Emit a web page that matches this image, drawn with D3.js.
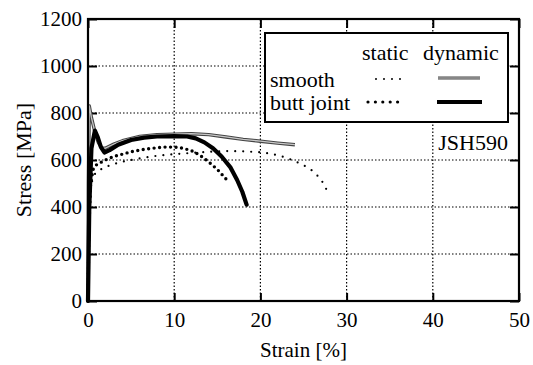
<!DOCTYPE html>
<html><head><meta charset="utf-8">
<script src="https://cdn.jsdelivr.net/npm/d3@7"></script>
<style>html,body{margin:0;padding:0;background:#fff;}svg{display:block;} svg text{font-family:"Liberation Serif","Times New Roman",Tinos,"DejaVu Serif",serif !important;}</style>
</head><body>
<script>
const xTicks = [0, 10, 20, 30, 40, 50];
const yTicks = [0, 200, 400, 600, 800, 1000, 1200];

const dynSmoothX = [0, 0.05, 0.15, 0.4, 0.8, 1.2, 1.6, 2, 3, 4, 6, 8, 10, 12, 14, 16, 18, 20, 22, 24];
const dynSmoothY = [0, 500, 830, 780, 720, 675, 650, 650, 668, 682, 700, 708, 710, 712, 708, 698, 688, 680, 672, 665];

const dynButtX = [0, 0.15, 0.4, 0.8, 1.1, 1.5, 1.9, 2.5, 3.5, 5, 6.5, 8, 10, 11.5, 12.5, 13.5, 14.5, 15.5, 16.5, 17.3, 17.9, 18.4];
const dynButtY = [0, 400, 650, 725, 700, 655, 632, 642, 665, 685, 695, 700, 702, 700, 692, 675, 650, 615, 570, 515, 465, 410];

const statButtX = [0, 0.1, 0.3, 0.6, 1, 2, 3, 4, 5, 6, 7, 8, 9, 10, 11, 12, 13, 14, 15, 16, 16.3];
const statButtY = [0, 300, 500, 560, 580, 600, 615, 625, 635, 642, 648, 652, 655, 655, 650, 640, 620, 592, 560, 520, 505];

const statSmoothX = [0, 0.1, 0.3, 0.6, 1, 2, 3, 4, 6, 8, 10, 12, 14, 16, 18, 20, 21, 22, 23, 24, 25, 26, 27, 27.8];
const statSmoothY = [0, 300, 480, 530, 550, 570, 583, 593, 607, 618, 625, 630, 635, 638, 637, 633, 628, 620, 610, 595, 578, 555, 520, 465];

const W = 533, H = 365;
const FONT = "'Liberation Serif', 'Times New Roman', Tinos, 'DejaVu Serif', serif";
const svg = d3.select("body").append("svg").attr("width", W).attr("height", H);
svg.append("rect").attr("width", W).attr("height", H).attr("fill", "#fff");

const x = d3.scaleLinear().domain([0, 50]).range([88, 519]);
const y = d3.scaleLinear().domain([0, 1200]).range([301, 19]);

// grid
const g = svg.append("g");
g.selectAll(".gx").data(xTicks.slice(1, -1)).join("line")
  .attr("x1", d => x(d)).attr("x2", d => x(d)).attr("y1", y(0)).attr("y2", y(1200))
  .attr("stroke", "#000").attr("stroke-width", 1.2).attr("stroke-dasharray", "1.5,2");
g.selectAll(".gy").data(yTicks.slice(1, -1)).join("line")
  .attr("x1", x(0)).attr("x2", x(50)).attr("y1", d => y(d)).attr("y2", d => y(d))
  .attr("stroke", "#000").attr("stroke-width", 1.2).attr("stroke-dasharray", "1.5,2");

// axes
const fs = 21;
const ax = svg.append("g").attr("transform", `translate(0,${y(0)})`)
  .call(d3.axisBottom(x).tickValues(xTicks).tickSize(-8).tickPadding(11).tickFormat(d3.format("d")));
const ay = svg.append("g").attr("transform", `translate(${x(0)},0)`)
  .call(d3.axisLeft(y).tickValues(yTicks).tickSize(-9).tickPadding(6).tickFormat(d3.format("d")));
const at = svg.append("g").attr("transform", `translate(0,${y(1200)})`)
  .call(d3.axisTop(x).tickValues(xTicks).tickSize(-9).tickFormat(""));
const ar = svg.append("g").attr("transform", `translate(${x(50)},0)`)
  .call(d3.axisRight(y).tickValues(yTicks).tickSize(-9).tickFormat(""));
[ax, ay, at, ar].forEach(a => {
  a.attr("font-family", FONT);
  a.select(".domain").remove();
  a.selectAll(".tick line").attr("stroke", "#000").attr("stroke-width", 2);
  a.selectAll("text").attr("font-size", fs).attr("fill", "#000");
});

// curves
const zip = (a, b) => a.map((v, i) => [v, b[i]]);
const lineY = d3.line().x(d => x(d[0])).y(d => y(d[1]));

svg.append("path").attr("d", lineY(zip(statSmoothX, statSmoothY))).attr("fill", "none")
  .attr("stroke", "#000").attr("stroke-width", 2.2).attr("stroke-linecap", "round").attr("stroke-dasharray", "0,8");
svg.append("path").attr("d", lineY(zip(statButtX, statButtY))).attr("fill", "none")
  .attr("stroke", "#000").attr("stroke-width", 3.4).attr("stroke-linecap", "round").attr("stroke-dasharray", "0,5.5");
svg.append("path").attr("d", lineY(zip(dynSmoothX, dynSmoothY))).attr("fill", "none")
  .attr("stroke", "#444").attr("stroke-width", 3.4).attr("stroke-linejoin", "round");
svg.append("path").attr("d", lineY(zip(dynSmoothX, dynSmoothY))).attr("fill", "none")
  .attr("stroke", "#c8c8c8").attr("stroke-width", 1.3).attr("stroke-linejoin", "round");
svg.append("path").attr("d", lineY(zip(dynButtX, dynButtY))).attr("fill", "none")
  .attr("stroke", "#000").attr("stroke-width", 4.2).attr("stroke-linejoin", "round").attr("stroke-linecap", "round");

// frame
svg.append("rect").attr("x", x(0)).attr("y", y(1200)).attr("width", x(50) - x(0)).attr("height", y(0) - y(1200))
  .attr("fill", "none").attr("stroke", "#000").attr("stroke-width", 2.2);

// legend
const lg = svg.append("g").attr("font-family", FONT);
lg.append("rect").attr("x", 265).attr("y", 33).attr("width", 243).attr("height", 89)
  .attr("fill", "#fff").attr("stroke", "#000").attr("stroke-width", 2);
const lfs = 22;
lg.append("text").attr("x", 362).attr("y", 60).attr("font-size", lfs).text("static");
lg.append("text").attr("x", 423).attr("y", 60).attr("font-size", lfs).text("dynamic");
lg.append("text").attr("x", 270).attr("y", 87).attr("font-size", lfs).text("smooth");
lg.append("text").attr("x", 270).attr("y", 110).attr("font-size", lfs).text("butt joint");
lg.append("line").attr("x1", 376).attr("x2", 405).attr("y1", 79).attr("y2", 79)
  .attr("stroke", "#000").attr("stroke-width", 2).attr("stroke-linecap", "round").attr("stroke-dasharray", "0,8");
lg.append("line").attr("x1", 368).attr("x2", 405).attr("y1", 102).attr("y2", 102)
  .attr("stroke", "#000").attr("stroke-width", 3.2).attr("stroke-linecap", "round").attr("stroke-dasharray", "0,7.4");
lg.append("line").attr("x1", 438).attr("x2", 480).attr("y1", 78).attr("y2", 78)
  .attr("stroke", "#444").attr("stroke-width", 3.2);
lg.append("line").attr("x1", 438).attr("x2", 480).attr("y1", 78).attr("y2", 78)
  .attr("stroke", "#c8c8c8").attr("stroke-width", 1.2);
lg.append("line").attr("x1", 437).attr("x2", 482).attr("y1", 102).attr("y2", 102)
  .attr("stroke", "#000").attr("stroke-width", 4);

const tg = svg.append("g").attr("font-family", FONT);
tg.append("text").attr("x", 508).attr("y", 150).attr("text-anchor", "end").attr("font-size", 22).text("JSH590");

// axis titles
tg.append("text").attr("x", x(25)).attr("y", 357).attr("text-anchor", "middle").attr("font-size", 21).text("Strain [%]");
tg.append("text").attr("transform", `translate(31,${y(600)}) rotate(-90)`).attr("text-anchor", "middle")
  .attr("font-size", 22).text("Stress [MPa]");
</script>
</body></html>
